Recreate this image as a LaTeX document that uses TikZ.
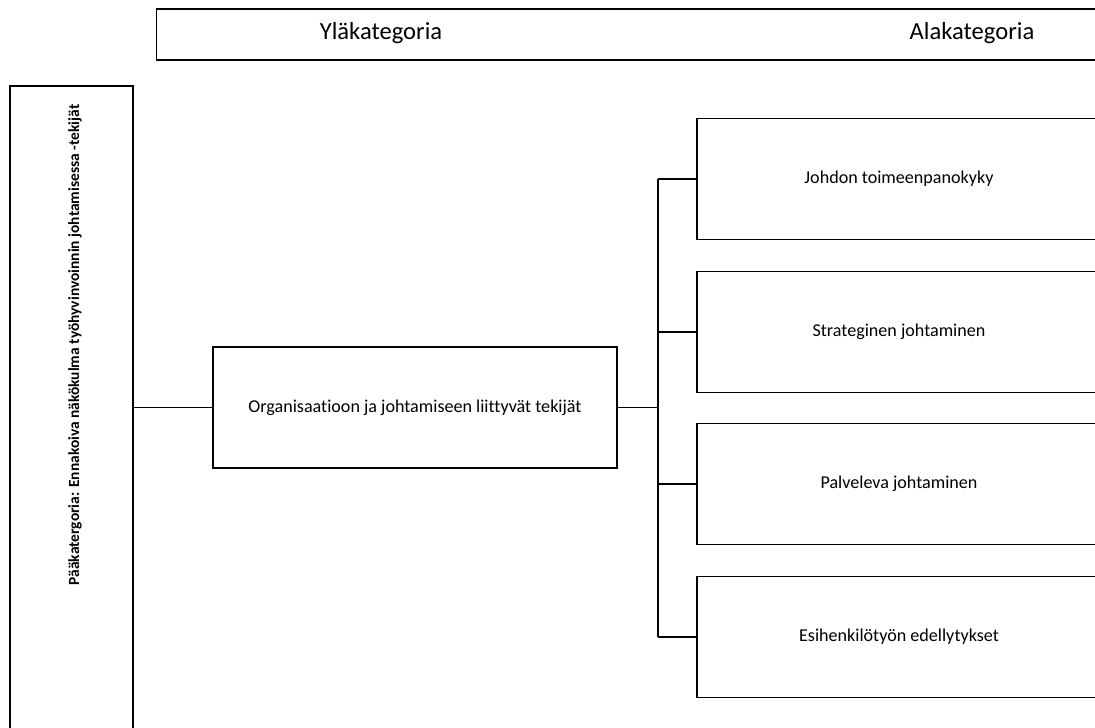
\documentclass[tikz,border=0pt]{standalone}
\usepackage{fontspec}
\setmainfont{Carlito}[Ligatures=NoCommon]
\begin{document}
\begin{tikzpicture}[x=0.02cm, y=-0.02cm,
  box/.style={draw, line width=1.1pt, rectangle, inner sep=0pt},
  catbox/.style={box, minimum width=8.08cm, minimum height=2.42cm, font=\fontsize{10.3}{12}\selectfont},
  head/.style={font=\fontsize{14}{16}\selectfont}]
\useasboundingbox (0,0) rectangle (1095,727);
\clip (0,0) rectangle (1095,727);

% otsikkorivi
\node[draw, line width=0.6pt, minimum width=19.1cm, minimum height=1.02cm, inner sep=0pt] (hdr) at (634,34.5) {};
\node[head] (yla) at (381,33) {Yläkategoria};
\node[head] (ala) at (972,33) {Alakategoria};

% pääkategoria
\node[box, minimum width=2.46cm, minimum height=13.68cm] (paa) at (71.5,428) {};
\node[rotate=90, font=\bfseries\fontsize{8.8}{10}\selectfont] (paatxt) at (75,345) {Pääkatergoria: Ennakoiva näkökulma työhyvinvoinnin johtamisessa -tekijät};

% yläkategoria
\node[catbox] (org) at (415,407.5) {Organisaatioon ja johtamiseen liittyvät tekijät};

% alakategoriat
\node[catbox] (a1) at (899,179) {Johdon toimeenpanokyky};
\node[catbox] (a2) at (899,332) {Strateginen johtaminen};
\node[catbox] (a3) at (899,484) {Palveleva johtaminen};
\node[catbox] (a4) at (899,637) {Esihenkilötyön edellytykset};

\coordinate (j) at (658,407.5);

\path[draw,line width=1.1pt] (paa.east |- org) -- (org.west);
\path[draw,line width=1.1pt] (org.east) -- (j);
\path[draw,line width=1.1pt] (j |- a1) -- (j |- a4);
\path[draw,line width=1.1pt] (j |- a1) -- (a1.west);
\path[draw,line width=1.1pt] (j |- a2) -- (a2.west);
\path[draw,line width=1.1pt] (j |- a3) -- (a3.west);
\path[draw,line width=1.1pt] (j |- a4) -- (a4.west);
\end{tikzpicture}
\end{document}
